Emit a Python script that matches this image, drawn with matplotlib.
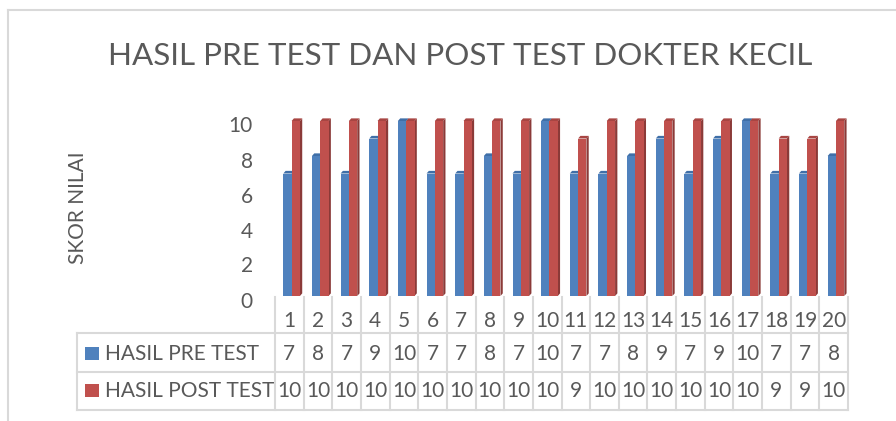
import matplotlib.pyplot as plt
from matplotlib.patches import Polygon, Rectangle
from matplotlib.transforms import blended_transform_factory, ScaledTranslation

# ---------------- data ----------------
categories = ["1", "2", "3", "4", "5", "6", "7", "8", "9", "10",
              "11", "12", "13", "14", "15", "16", "17", "18", "19", "20"]
pre_test = [7, 8, 7, 9, 10, 7, 7, 8, 7, 10, 7, 7, 8, 9, 7, 9, 10, 7, 7, 8]
post_test = [10, 10, 10, 10, 10, 10, 10, 10, 10, 10, 9, 10, 10, 10, 10, 10, 10, 9, 9, 10]
series_names = ["HASIL PRE TEST", "HASIL POST TEST"]
title = "HASIL PRE TEST DAN POST TEST DOKTER KECIL"
ylabel = "SKOR NILAI"
yticks = [0, 2, 4, 6, 8, 10]

plt.rcParams['font.family'] = ['Lato', 'DejaVu Sans']
txt = '#595959'
grid = '#d9d9d9'
W, H = 896, 421

fig = plt.figure(figsize=(W / 100, H / 100), dpi=100)

# bars axes (pixel layout: x 275..848, y 296 (0) .. 121 (10))
ax = fig.add_axes([275 / W, (H - 296) / H, 573 / W, 175 / H])
ax.set_xlim(0.5, len(categories) + 0.5)
ax.set_ylim(0, 10)
for s in ax.spines.values():
    s.set_visible(False)
ax.set_xticks([])
ax.set_yticks(yticks)
ax.tick_params(axis='y', length=0, pad=16, labelsize=15, labelcolor=txt)
off = ScaledTranslation(0, -3.5 / 100, fig.dpi_scale_trans)
for lab in ax.get_yticklabels():
    lab.set_transform(lab.get_transform() + off)

bw = 0.29
dx, dy = 0.08, 0.15
styles = [
    dict(front='#4f81bd', side='#3a6396', top='#3f6fa8', x0=-0.21),
    dict(front='#c0504d', side='#8b3a38', top='#a84542', x0=0.08),
]
xs = list(range(1, len(categories) + 1))
for vals, st in zip([pre_test, post_test], styles):
    lefts = [x + st['x0'] for x in xs]
    ax.bar(lefts, vals, width=bw, align='edge', color=st['front'],
           linewidth=0, clip_on=False, zorder=3)
    for l, v in zip(lefts, vals):
        r = l + bw
        ax.add_patch(Polygon([(r, 0), (r + dx, dy), (r + dx, v + dy), (r, v)],
                             closed=True, fc=st['side'], lw=0, clip_on=False, zorder=2))
        ax.add_patch(Polygon([(l, v), (l + dx, v + dy), (r + dx, v + dy), (r, v)],
                             closed=True, fc=st['top'], lw=0, clip_on=False, zorder=2))

# overlay in pixel coordinates for title, border and data table
ov = fig.add_axes([0, 0, 1, 1], zorder=-1)
ov.set_xlim(0, W)
ov.set_ylim(H, 0)
ov.axis('off')
ov.patch.set_alpha(0)

ov.plot([8, W], [10, 10], color=grid, lw=1.5)
ov.plot([8, 8], [10, H], color=grid, lw=1.5)
ov.text(460, 65, title, fontsize=22.6, color=txt, ha='center', va='baseline')
ov.text(78, 208, ylabel, fontsize=15, color=txt, rotation=90, ha='center', va='center')

tr = blended_transform_factory(ax.transData, ov.transData)
lw = 1.5
n = len(categories)
for k in range(n + 1):
    xe = k + 0.5
    fig.add_artist(plt.Line2D([xe, xe], [297, 410], transform=tr, color=grid, lw=lw))
for yy in [333, 372, 410]:
    ov.plot([77, 848], [yy, yy], color=grid, lw=lw)
ov.plot([77, 77], [333, 410], color=grid, lw=lw)

for x, c, a, b in zip(xs, categories, pre_test, post_test):
    ov.text(x, 321, c, transform=tr, ha='center', va='center', fontsize=15, color=txt)
    ov.text(x, 354, str(a), transform=tr, ha='center', va='center', fontsize=15, color=txt)
    ov.text(x, 391, str(b), transform=tr, ha='center', va='center', fontsize=15, color=txt)

for yy, name, st in zip([354, 391], series_names, styles):
    ov.add_patch(Rectangle((85, yy - 7), 14, 13, fc=st['front'], lw=0))
    ov.text(105, yy, name, ha='left', va='center', fontsize=15, color=txt)

fig.savefig('out.png', dpi=100)
